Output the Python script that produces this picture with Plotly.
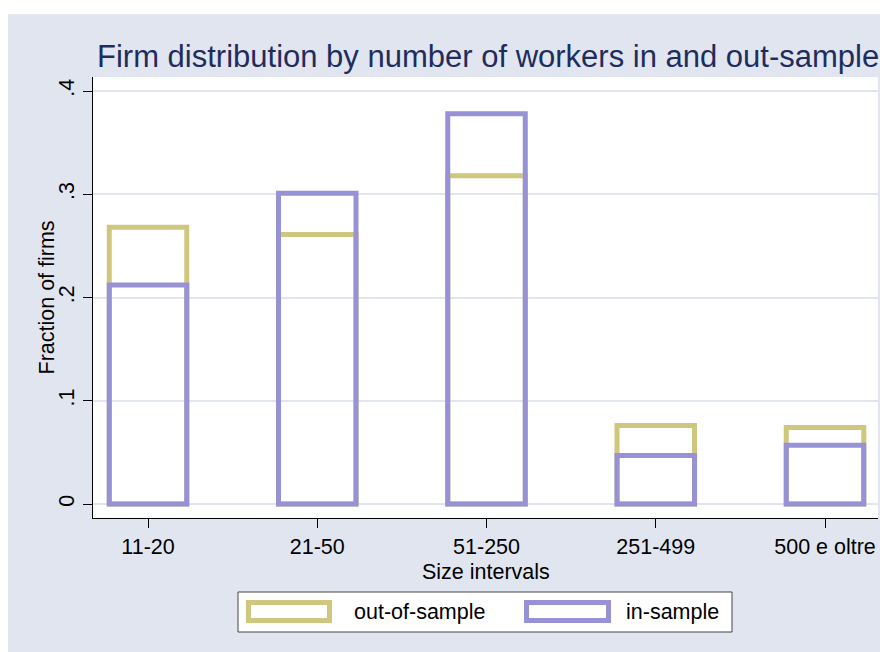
import plotly.graph_objects as go

categories = ["11-20", "21-50", "51-250", "251-499", "500 e oltre"]
out_of_sample = [0.268, 0.261, 0.318, 0.076, 0.074]
in_sample = [0.212, 0.301, 0.378, 0.047, 0.057]
y_tick_vals = [0, 0.1, 0.2, 0.3, 0.4]
y_tick_text = ["0", ".1", ".2", ".3", ".4"]

KHAKI = "#cec77d"
LAVENDER = "#9791d5"
BG = "#e1e5f0"
FONT = "Arial, Liberation Sans, sans-serif"

# page offset from body margin
OFF = 8
W, H = 880, 644
# plot area in page pixels
PL, PR, PT, PB = 93, 878, 77, 518
L, R, T, B = PL - OFF, (W + OFF) - PR, PT - OFF, (H + OFF) - PB
PW = PR - PL
PH = PB - PT


def px(x):
    return (x - PL) / PW


def py(y):
    return (PB - y) / PH


fig = go.Figure()
fig.add_trace(go.Bar(x=list(range(len(categories))), y=out_of_sample, name="out-of-sample",
                     width=0.458, marker=dict(color="rgba(0,0,0,0)", line=dict(color=KHAKI, width=5)),
                     showlegend=False))
fig.add_trace(go.Bar(x=list(range(len(categories))), y=in_sample, name="in-sample",
                     width=0.458, marker=dict(color="rgba(0,0,0,0)", line=dict(color=LAVENDER, width=5)),
                     showlegend=False))

shapes = [
    dict(type="rect", xref="paper", yref="paper", x0=px(8), x1=px(900), y0=py(700), y1=py(14),
         fillcolor=BG, line=dict(width=0), layer="below"),
    dict(type="rect", xref="paper", yref="paper", x0=0, x1=1, y0=0, y1=1,
         fillcolor="white", line=dict(width=0), layer="below"),
    # legend box
    dict(type="rect", xref="paper", yref="paper", x0=px(238), x1=px(732), y0=py(632), y1=py(592),
         fillcolor="white", line=dict(color="#444444", width=1)),
    dict(type="rect", xref="paper", yref="paper", x0=px(248.5), x1=px(329.5), y0=py(620.5), y1=py(602.5),
         fillcolor="white", line=dict(color=KHAKI, width=5)),
    dict(type="rect", xref="paper", yref="paper", x0=px(526.5), x1=px(608.5), y0=py(620.5), y1=py(602.5),
         fillcolor="white", line=dict(color=LAVENDER, width=5)),
]

FS = 21.5
annotations = [
    dict(text="out-of-sample", xref="paper", yref="paper", x=px(352), y=py(612), xanchor="left",
         yanchor="middle", showarrow=False, font=dict(size=FS, color="black", family=FONT)),
    dict(text="in-sample", xref="paper", yref="paper", x=px(624), y=py(612), xanchor="left",
         yanchor="middle", showarrow=False, font=dict(size=FS, color="black", family=FONT)),
    dict(text="Size intervals", xref="paper", yref="paper", x=0.5, y=py(572), xanchor="center",
         yanchor="middle", showarrow=False, font=dict(size=FS, color="black", family=FONT)),
    dict(text="Fraction of firms", xref="paper", yref="paper", x=px(46), y=0.5, xanchor="center",
         yanchor="middle", textangle=-90, showarrow=False, font=dict(size=FS, color="black", family=FONT)),
]

fig.update_layout(
    width=W, height=H,
    margin=dict(l=L, r=R, t=T, b=B, pad=0),
    paper_bgcolor="white", plot_bgcolor="white",
    barmode="overlay",
    font=dict(family=FONT, size=FS, color="black"),
    title=dict(text="Firm distribution by number of workers in and out-sample",
               x=px(97), xref="paper", xanchor="left", y=1 - (56 - OFF) / H, yref="container",
               yanchor="middle", font=dict(size=31, color="#1f2d5c", family=FONT)),
    shapes=shapes, annotations=annotations,
    xaxis=dict(range=[-0.325, 4.313], tickmode="array", tickvals=list(range(len(categories))),
               ticktext=categories, showgrid=False, zeroline=False, showline=True, linecolor="black",
               linewidth=1, ticks="outside", ticklen=9, tickcolor="black", tickfont=dict(size=FS)),
    yaxis=dict(range=[-0.01356, 0.41356], tickmode="array", tickvals=y_tick_vals, ticktext=y_tick_text,
               showgrid=True, gridcolor=BG, gridwidth=2, zeroline=False, showline=True, linecolor="black",
               linewidth=1, ticks="outside", ticklen=9, tickcolor="black", tickangle=-90,
               tickfont=dict(size=FS)),
)

fig.write_html("out.html")
